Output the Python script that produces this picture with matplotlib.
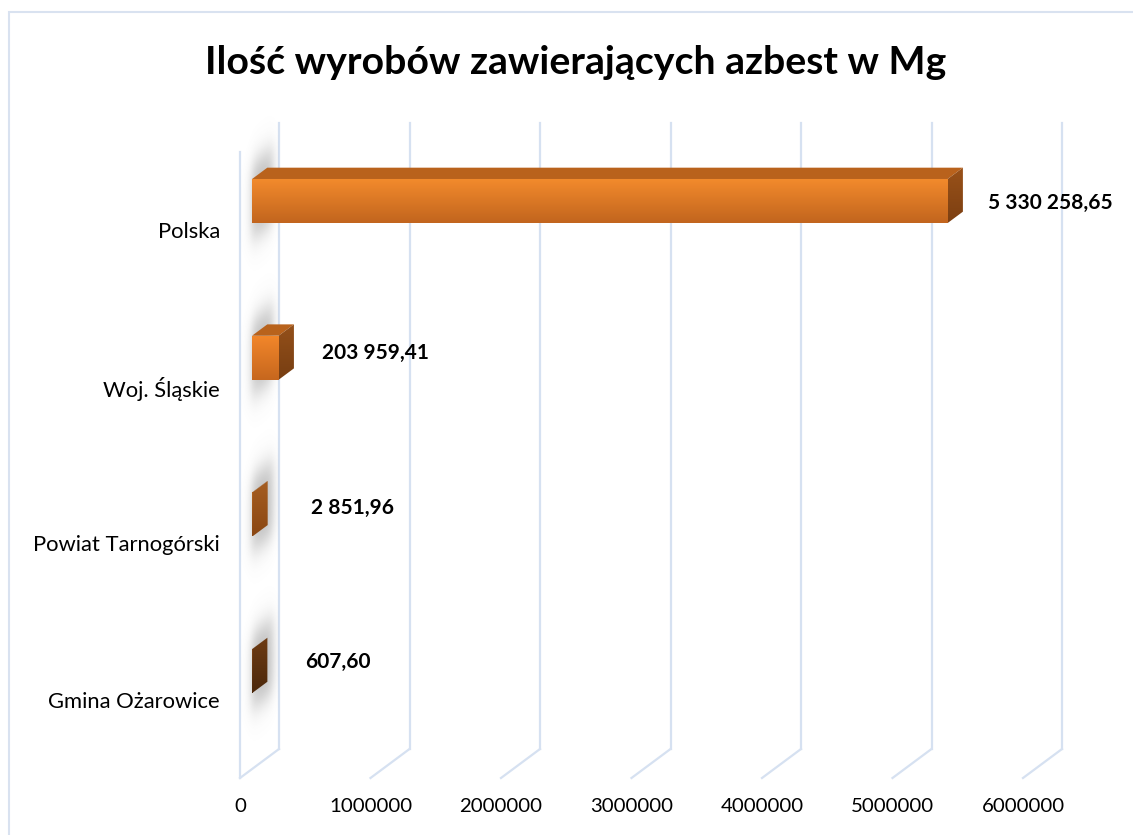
import numpy as np
import matplotlib.pyplot as plt
from matplotlib.patches import Polygon, Rectangle
from matplotlib.colors import LinearSegmentedColormap

plt.rcParams['font.family'] = ['Lato', 'DejaVu Sans']

# data (bottom to top)
categories = ["Gmina Ożarowice", "Powiat Tarnogórski", "Woj. Śląskie", "Polska"]
values = [607.60, 2851.96, 203959.41, 5330258.65]
value_labels = ["607,60", "2 851,96", "203 959,41", "5 330 258,65"]
xticks = [0, 1000000, 2000000, 3000000, 4000000, 5000000, 6000000]

# per-bar shading (front gradient, top face, side gradient)
front_colors = [("#7a4216", "#4c280b"), ("#b0621f", "#8a4713"),
                ("#f2862a", "#c6671e"), ("#f28a2c", "#c2651e")]
top_colors = ["#5e3210", "#94501a", "#b8621c", "#b9621c"]
side_colors = [("#6e3c14", "#4c280b"), ("#a65e22", "#8a4713"),
               ("#94501a", "#773e12"), ("#9a5219", "#7c3f12")]

label_dx = [65, 71, 55, 52]
label_dy = [18, 15, 14, 7]

W, H = 1133, 835
fig = plt.figure(figsize=(W / 100, H / 100), dpi=100)
ax = fig.add_axes([240 / W, (H - 778) / H, 783 / W, 626 / H])
xlo, xhi = 0, 6e6
ylo, yhi = -0.625, 3.37
ax.set_xlim(xlo, xhi)
ax.set_ylim(ylo, yhi)
ax.axis('off')

# 3d depth expressed in data units (39 px right, 29 px up)
ux = (xhi - xlo) / 783
uy = (yhi - ylo) / 626
DX, DY = 39 * ux, 29 * uy


def pt(x, y, d):
    return (x + d * DX, y + d * DY)


grid_c = "#d6e1f1"
# left wall front edge
ax.plot([0, 0], [ylo, yhi], color=grid_c, lw=1.6, clip_on=False, zorder=1)
for t in xticks:
    a, b = pt(t, ylo, 0), pt(t, ylo, 1)
    ax.plot([a[0], b[0]], [a[1], b[1]], color=grid_c, lw=1.6, clip_on=False, zorder=1)
    ax.plot([b[0], b[0]], [b[1], yhi + DY], color=grid_c, lw=1.6, clip_on=False, zorder=1)
    ax.annotate(f"{t}", xy=(t, ylo), xytext=(0, -28), textcoords='offset pixels',
                ha='center', va='center', fontsize=14.7, annotation_clip=False)


def grad_image(extent, c_top, c_bot, clip=None, z=3):
    cmap = LinearSegmentedColormap.from_list("g", [c_bot, c_top])
    g = np.linspace(1, 0, 64).reshape(-1, 1)
    im = ax.imshow(g, cmap=cmap, extent=extent, aspect='auto', origin='upper',
                   interpolation='bilinear', zorder=z)
    if clip is not None:
        im.set_clip_path(clip)
        im.set_clip_box(fig.bbox)
        im.set_clip_on(True)
    else:
        im.set_clip_on(False)
    return im


def smooth_box(u, lo, hi, soft):
    return 1 / (1 + np.exp(-(u - lo) / soft)) * 1 / (1 + np.exp((u - hi) / soft))


def wall_shadow(yb, yt):
    # blurred shadow lying on the left wall plane (x = 0, depth 0..1)
    pad = 0.35
    nx, ny = 60, 200
    X = np.linspace(0, DX, nx)
    Y = np.linspace(yb - pad, yt + DY + pad, ny)
    XX, YY = np.meshgrid(X, Y)
    d = XX / DX
    yw = YY - d * DY
    a = smooth_box(d, 0.3, 0.85, 0.07) * smooth_box(yw, yb - 0.1, yt + 0.1, 0.05)
    rgba = np.zeros((ny, nx, 4))
    rgba[..., :3] = 0.4
    rgba[..., 3] = 0.42 * a
    im = ax.imshow(rgba, extent=[0, DX, Y[0], Y[-1]], origin='lower', aspect='auto',
                   interpolation='bilinear', zorder=2)
    im.set_clip_on(False)


h = 22 * uy
f1, f2 = 0.31, 0.70
for i, v in enumerate(values):
    y = i
    wall_shadow(y - h, y + h)

    # front face
    x0, y0 = pt(0, y - h, f1)
    x1, y1 = pt(v, y + h, f1)
    grad_image([x0, x1, y0, y1], front_colors[i][0], front_colors[i][1], z=4)

    # top face
    top = [pt(0, y + h, f1), pt(v, y + h, f1), pt(v, y + h, f2), pt(0, y + h, f2)]
    ax.add_patch(Polygon(top, closed=True, facecolor=top_colors[i], edgecolor='none',
                         clip_on=False, zorder=3))

    # side face
    side = [pt(v, y - h, f1), pt(v, y + h, f1), pt(v, y + h, f2), pt(v, y - h, f2)]
    sp = Polygon(side, closed=True, facecolor='none', edgecolor='none', transform=ax.transData)
    xs = [p[0] for p in side]
    ys = [p[1] for p in side]
    grad_image([min(xs), max(xs), min(ys), max(ys)], side_colors[i][0], side_colors[i][1],
               clip=sp, z=3)

    ax.annotate(value_labels[i], xy=(v, y), xytext=(label_dx[i], label_dy[i]),
                textcoords='offset pixels', ha='left', va='center', fontsize=15,
                fontweight='bold', annotation_clip=False)
    ax.annotate(categories[i], xy=(0, y), xytext=(-20, -22), textcoords='offset pixels',
                ha='right', va='center', fontsize=15.8, annotation_clip=False)

ax.set_xlim(xlo, xhi)
ax.set_ylim(ylo, yhi)

fig.text(575.5 / W, (H - 62) / H, "Ilość wyrobów zawierających azbest w Mg",
         ha='center', va='center', fontsize=28.3, fontweight='bold')

fig.patches.append(Rectangle((9 / W, -0.1), 2, (H - 12) / H + 0.1, transform=fig.transFigure,
                             facecolor='none', edgecolor="#d9e2f0", lw=1.5))

fig.savefig("out.png", dpi=100)
